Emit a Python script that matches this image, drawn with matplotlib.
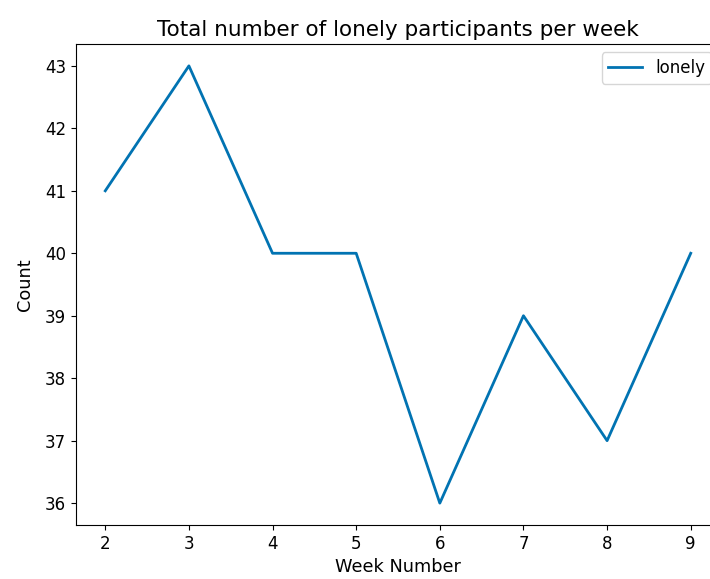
import matplotlib
matplotlib.use("Agg")
import matplotlib.pyplot as plt

weeks = [2, 3, 4, 5, 6, 7, 8, 9]
lonely = [41, 43, 40, 40, 36, 39, 37, 40]

fig = plt.figure(figsize=(7.1, 5.79), dpi=100)
ax = fig.add_axes([76/710, 54/579, (720-76)/710, (535-54)/579])
ax.plot(weeks, lonely, color="#0173B2", linewidth=2, label="lonely")
ax.set_title("Total number of lonely participants per week", fontsize=15.5)
ax.set_xlabel("Week Number", fontsize=12.8)
ax.set_ylabel("Count", fontsize=12.8, labelpad=8)
ax.tick_params(labelsize=12)
ax.legend(loc="upper right", fontsize=12)
fig.savefig("out.png", dpi=100)
